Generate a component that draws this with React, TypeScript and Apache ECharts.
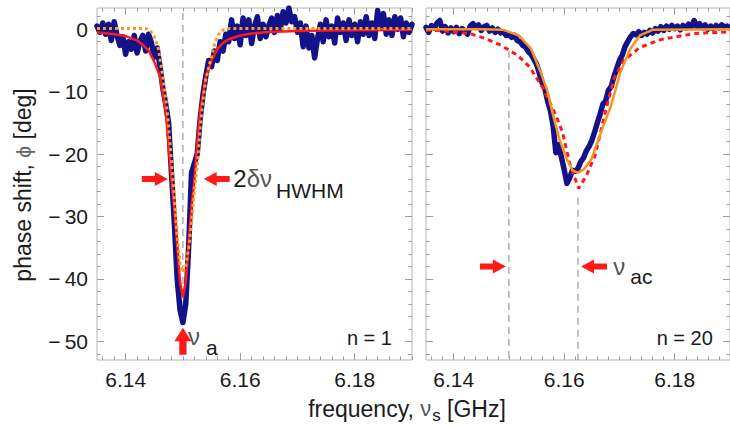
import { useEffect, useRef } from "react";
import * as echarts from "echarts";

const FONT = '"Liberation Sans", Arial, Helvetica, sans-serif';

// Recorded traces are sampled on a uniform frequency grid (GHz)
const FREQ_START = 6.135;
const FREQ_STEP = 0.0005;

// Measured phase shift (deg), single artificial atom, n = 1
const PHASE_N1 = [
  0.5, -0.5, 1.0, -0.8, 0.8, -1.8, 1.2, -1.0, -2.6, -1.2,
  -4.0, -2.0, -3.2, -1.0, -3.8, -2.0, -1.0, -3.5, -0.8, -2.2,
  -4.5, -3.0, -6.0, -9.5, -12.0, -15.0, -23.0, -31.0, -40.0, -45.0,
  -47.0, -44.0, -35.0, -23.0, -21.5, -20.0, -14.5, -10.5, -7.5, -5.0,
  -6.0, -3.5, -5.0, -2.0, -3.5, -0.8, -2.0, 1.5, -1.5, 0.5,
  -2.5, 1.8, -1.0, 1.5, -2.3, 0.5, 2.0, -1.5, 0.8, -1.2,
  0.6, 1.8, -0.5, 2.2, 0.0, 2.8, 1.0, 3.4, 1.2, 2.0,
  -0.5, 1.0, -2.8, 0.5, -3.0, -1.0, -4.6, -1.5, 0.8, -2.0,
  1.5, -1.2, 0.5, -2.2, 1.8, -0.5, 1.0, -1.8, 1.5, -1.0,
  0.8, -2.0, 1.2, -0.8, 2.0, -1.0, 1.0, -1.5, 3.0, 0.5,
  2.5, -0.8, 1.5, -1.0, 2.0, 0.0, 1.8, -1.2, 1.0, -0.5,
  0.8,
];

// Measured phase shift (deg), collective response, n = 20
const PHASE_N20 = [
  0.3, -0.5, 0.6, 0.2, 1.0, 1.4, -0.3, 0.4, -0.6, 0.2,
  -0.4, 0.3, -0.7, 0.1, -0.2, -0.8, 0.5, 0.9, 0.3, 0.7,
  -0.2, 0.4, 0.6, -0.3, 0.2, -0.5, 0.0, -0.6, -0.4, -1.0,
  -0.8, -1.3, -1.0, -1.8, -2.0, -2.6, -2.8, -3.6, -4.0, -4.8,
  -5.6, -7.0, -8.5, -9.5, -11.5, -13.0, -15.5, -19.8, -18.5, -20.5,
  -22.5, -24.7, -23.8, -22.6, -22.8, -22.3, -21.2, -20.6, -19.5, -18.8,
  -17.8, -16.5, -15.0, -13.6, -12.0, -11.5, -9.8, -9.2, -7.6, -6.3,
  -5.0, -4.2, -2.8, -2.0, -1.2, -0.7, -0.9, -0.4, -1.0, -0.5,
  -0.8, -0.2, -0.6, 0.1, -0.3, 0.4, -0.2, 0.5, 0.0, 0.6,
  0.1, 0.5, -0.1, 0.6, 0.2, 0.8, 0.3, 1.4, 0.4, 0.9,
  0.2, 0.7, 0.0, 0.5, 0.1, 0.6, 0.2, 0.7, 0.3, 0.5,
  0.2,
];

// Lorentzian fit, n = 1
const LORENTZ_N1_FREQ = [
  6.135, 6.138, 6.14, 6.142, 6.143, 6.144, 6.145, 6.146, 6.147, 6.1475,
  6.148, 6.1485, 6.149, 6.1495, 6.15, 6.1505, 6.151, 6.1515, 6.152, 6.1525,
  6.153, 6.154, 6.155, 6.156, 6.157, 6.158, 6.16, 6.162, 6.165, 6.17,
  6.175, 6.18, 6.19,
];
const LORENTZ_N1_PHASE = [
  -0.5, -0.8, -1.1, -1.8, -2.5, -3.4, -5.2, -7.6, -13.2, -18.5,
  -24.2, -28.5, -34.5, -40.5, -43.0, -40.5, -34.5, -28.5, -24.2, -18.5,
  -13.2, -7.6, -5.0, -3.2, -2.2, -1.6, -1.0, -0.7, -0.45, -0.3,
  -0.2, -0.15, -0.1,
];

// Gaussian fit, n = 1
const GAUSS_N1_FREQ = [
  6.135, 6.14, 6.1435, 6.1443, 6.145, 6.1457, 6.1465, 6.1472, 6.148, 6.1485,
  6.149, 6.1495, 6.15, 6.1505, 6.151, 6.1515, 6.152, 6.1526, 6.153, 6.1535,
  6.154, 6.1547, 6.1556, 6.1562, 6.1568, 6.158, 6.165, 6.19,
];
const GAUSS_N1_PHASE = [
  0.1, 0.1, 0.1, -0.2, -1.2, -3.0, -7.7, -12.5, -21.0, -27.0,
  -33.0, -37.5, -39.0, -38.0, -35.0, -31.0, -26.0, -21.0, -16.0, -11.5,
  -8.0, -5.4, -2.1, -0.9, -0.2, 0.1, 0.1, 0.1,
];

// Gaussian fit, n = 20
const GAUSS_N20_FREQ = [
  6.135, 6.145, 6.149, 6.1518, 6.154, 6.1557, 6.157, 6.158, 6.1591, 6.1604,
  6.1615, 6.1625, 6.1635, 6.165, 6.1667, 6.1685, 6.1702, 6.172, 6.1737, 6.176,
  6.19,
];
const GAUSS_N20_PHASE = [
  0.0, 0.0, -0.1, -1.0, -3.1, -6.8, -10.0, -13.8, -17.5, -20.7,
  -22.6, -23.0, -22.5, -20.7, -16.4, -12.2, -6.8, -3.1, -1.0, -0.1,
  0.0,
];

// Lorentzian fit, n = 20
const LORENTZ_N20_FREQ = [
  6.135, 6.1371, 6.1429, 6.1458, 6.1486, 6.1516, 6.1538, 6.1562, 6.1585, 6.1597,
  6.161, 6.1626, 6.164, 6.1656, 6.1673, 6.169, 6.1708, 6.1737, 6.1777, 6.1835,
  6.19,
];
const LORENTZ_N20_PHASE = [
  -0.15, -0.2, -0.7, -1.5, -2.6, -4.2, -6.1, -9.5, -13.8, -16.5,
  -21.5, -25.5, -23.5, -20.2, -13.8, -7.9, -5.0, -2.9, -1.6, -0.7,
  -0.4,
];

const X_TICK_LABELS = [6.14, 6.16, 6.18];
const Y_TICK_LABELS = [-50, -40, -30, -20, -10, 0];

// Resonance frequencies marked in the panels (GHz)
const NU_A = 6.15;
const NU_AC = 6.1625;

const X_MIN = 6.135;
const X_MAX = 6.19;
const Y_MIN = -53;
const Y_MAX = 3.4;

const X_MINOR = Array.from({ length: 28 }, (_, k) => Number((6.136 + 0.002 * k).toFixed(3)));
const Y_MINOR = Array.from({ length: 28 }, (_, k) => -52 + 2 * k);

const BLUE = "#12128a";
const RED = "#ff1a1a";
const ORANGE = "#ff9a1e";
const FRAME = "#b4b4b4";
const TICK = "#9c9c9c";
const INK = "#1a1a1a";
const GREEK = "#555555";

const pairs = (xs: number[], ys: number[]) => ys.map((y, i) => [xs[i], y]);
const sampled = (ys: number[]) => ys.map((y, i) => [FREQ_START + FREQ_STEP * i, y]);

const tick = (values: number[], length: number) => ({
  show: true,
  inside: true,
  length,
  customValues: values,
  lineStyle: { color: TICK, width: 1 },
});

const xLabel = {
  show: true,
  customValues: X_TICK_LABELS,
  formatter: (v: number) => v.toFixed(2),
  color: INK,
  fontSize: 21,
  fontFamily: FONT,
  margin: 9,
};

const yLabel = {
  show: true,
  customValues: Y_TICK_LABELS,
  formatter: (v: number) => (v === 0 ? "0" : "\u2212\u2009" + Math.abs(v)),
  color: INK,
  fontSize: 21,
  fontFamily: FONT,
  margin: 9,
};

function frameXAxes(gridIndex: number) {
  const base = {
    type: "value",
    gridIndex,
    min: X_MIN,
    max: X_MAX,
    axisLine: { show: false, onZero: false },
    splitLine: { show: false },
  };
  return [
    { ...base, position: "bottom", axisTick: tick(X_TICK_LABELS, 7), axisLabel: xLabel },
    { ...base, position: "bottom", axisTick: tick(X_MINOR, 3.5), axisLabel: { show: false } },
    { ...base, position: "top", axisTick: tick(X_TICK_LABELS, 7), axisLabel: { show: false } },
    { ...base, position: "top", axisTick: tick(X_MINOR, 3.5), axisLabel: { show: false } },
  ];
}

function frameYAxes(gridIndex: number, labelled: boolean) {
  const base = {
    type: "value",
    gridIndex,
    min: Y_MIN,
    max: Y_MAX,
    axisLine: { show: false, onZero: false },
    splitLine: { show: false },
  };
  return [
    { ...base, position: "left", axisTick: tick(Y_TICK_LABELS, 7), axisLabel: labelled ? yLabel : { show: false } },
    { ...base, position: "left", axisTick: tick(Y_MINOR, 3.5), axisLabel: { show: false } },
    { ...base, position: "right", axisTick: tick(Y_TICK_LABELS, 7), axisLabel: { show: false } },
    { ...base, position: "right", axisTick: tick(Y_MINOR, 3.5), axisLabel: { show: false } },
  ];
}

const ARROW = "path://M0,4L13,4L13,0L26,7L13,14L13,10L0,10Z";

// Rich styles for annotation texts: main glyphs and lowered subscripts
const richMain = { fontFamily: FONT, verticalAlign: "top", lineHeight: 28 };
const annotationRich = (subPad: number, subGap: number) => ({
  k: { ...richMain, fontSize: 24, fill: INK },
  g: { ...richMain, fontSize: 24, fill: GREEK },
  s: { fontFamily: FONT, fontSize: 21, fill: INK, verticalAlign: "top", lineHeight: 22, padding: [subPad, 0, 0, subGap] },
});

// Annotation texts anchored in data space: [panel, freq, phase, text, subscript drop, subscript gap]
const ANNOTATIONS: [number, number, number, string, number, number][] = [
  [0, 6.1588, -24.2, "{k|2}{g|\u03b4\u03bd}{s|HWHM}", 14, 4],
  [0, 6.1509, -49.5, "{g|\u03bd}{s|a}", 13, 6],
  [1, 6.1689, -38.3, "{g|\u03bd}{s|ac}", 12, 5],
];
const PANEL_TAGS: [number, number, number, string][] = [
  [0, 6.1865, -49.4, "n = 1"],
  [1, 6.1869, -49.5, "n = 20"],
];

function lineSeries(name: string, data: number[][], panel: number, style: any, z: number) {
  return {
    name,
    type: "line",
    xAxisIndex: panel * 4,
    yAxisIndex: panel * 4,
    data,
    showSymbol: false,
    symbol: "none",
    silent: true,
    z,
    lineStyle: style,
  };
}

function arrowSeries(panel: number, data: any[]) {
  return {
    type: "scatter",
    xAxisIndex: panel * 4,
    yAxisIndex: panel * 4,
    silent: true,
    z: 6,
    symbol: ARROW,
    symbolSize: [26, 14],
    itemStyle: { color: RED, opacity: 1 },
    data,
  };
}

export default function App() {
  const ref = useRef<HTMLDivElement>(null);

  useEffect(() => {
    if (!ref.current) return;
    const chart = echarts.init(ref.current, undefined, { renderer: "svg" });

    const grid = {
      show: true,
      borderColor: FRAME,
      borderWidth: 1,
      backgroundColor: "transparent",
      top: 8,
      height: 352,
      width: 315,
    };

    chart.setOption({
      animation: false,
      grid: [
        { ...grid, left: 97 },
        { ...grid, left: 426 },
      ],
      xAxis: [...frameXAxes(0), ...frameXAxes(1)],
      yAxis: [...frameYAxes(0, true), ...frameYAxes(1, false)],
      series: [
        // n = 1 panel
        lineSeries("nu_a", [[NU_A, 2.6], [NU_A, -47]], 0, { color: "#9a9a9a", width: 1.2, type: [7, 5] }, 1),
        lineSeries("data n=1", sampled(PHASE_N1), 0, { color: BLUE, width: 5.5, join: "round", cap: "round" }, 2),
        lineSeries("lorentz n=1", pairs(LORENTZ_N1_FREQ, LORENTZ_N1_PHASE), 0, { color: RED, width: 2.5 }, 3),
        lineSeries("gauss n=1", pairs(GAUSS_N1_FREQ, GAUSS_N1_PHASE), 0, { color: ORANGE, width: 3, type: [3, 3] }, 4),
        arrowSeries(0, [
          { value: [6.1451, -24] },
          { value: [6.1559, -24], symbolRotate: 180 },
          { value: [NU_A, -50], symbolRotate: 90, symbolSize: [27, 17] },
        ]),

        // n = 20 panel
        lineSeries("nu_a n=20", [[NU_A, -3.5], [NU_A, Y_MIN]], 1, { color: "#9a9a9a", width: 1.2, type: [7, 5] }, 1),
        lineSeries("nu_ac", [[NU_AC, -27], [NU_AC, Y_MIN]], 1, { color: "#9a9a9a", width: 1.2, type: [7, 5] }, 1),
        lineSeries("data n=20", sampled(PHASE_N20), 1, { color: BLUE, width: 5.5, join: "round", cap: "round" }, 2),
        lineSeries("lorentz n=20", pairs(LORENTZ_N20_FREQ, LORENTZ_N20_PHASE), 1, { color: RED, width: 3, type: [5, 4] }, 3),
        lineSeries("gauss n=20", pairs(GAUSS_N20_FREQ, GAUSS_N20_PHASE), 1, { color: "#f7931e", width: 2.5 }, 4),
        arrowSeries(1, [
          { value: [6.1471, -38] },
          { value: [6.1654, -38], symbolRotate: 180 },
        ]),
      ],
    });

    const toPx = (panel: number, f: number, v: number) =>
      chart.convertToPixel({ gridIndex: panel }, [f, v]) as number[];

    const annotationTexts = ANNOTATIONS.map(([panel, f, v, text, drop, gap]) => {
      const [x, y] = toPx(panel, f, v);
      return {
        type: "text",
        x,
        y,
        z: 10,
        silent: true,
        style: { text, align: "left", verticalAlign: "middle", rich: annotationRich(drop, gap) },
      };
    });

    const tagTexts = PANEL_TAGS.map(([panel, f, v, text]) => {
      const [x, y] = toPx(panel, f, v);
      return {
        type: "text",
        x,
        y,
        z: 10,
        silent: true,
        style: { text, align: "right", verticalAlign: "middle", fontFamily: FONT, fontSize: 20, fill: INK },
      };
    });

    chart.setOption({
      graphic: [
        {
          type: "text",
          x: 23,
          y: 185,
          rotation: Math.PI / 2,
          style: {
            text: "{t|phase shift, }{g|\u03d5}{t| [deg]}",
            align: "center",
            verticalAlign: "middle",
            rich: {
              t: { fontSize: 23, fontFamily: FONT, fill: INK },
              g: { fontSize: 21, fontFamily: FONT, fill: "#666" },
            },
          },
        },
        {
          type: "text",
          x: 407,
          y: 410,
          style: {
            text: "{t|frequency, }{g|\u03bd}{s|s}{t| [GHz]}",
            align: "center",
            verticalAlign: "middle",
            rich: {
              t: { fontSize: 23, fontFamily: FONT, fill: INK, verticalAlign: "top", lineHeight: 26 },
              g: { fontSize: 22, fontFamily: FONT, fill: GREEK, verticalAlign: "top", lineHeight: 26 },
              s: { fontSize: 17, fontFamily: FONT, fill: INK, verticalAlign: "top", lineHeight: 18, padding: [10, 0, 0, 1] },
            },
          },
        },
        ...annotationTexts,
        ...tagTexts,
      ],
    });

    return () => chart.dispose();
  }, []);

  return (
    <div
      ref={ref}
      style={{ position: "fixed", left: 0, top: 0, width: 730, height: 426, background: "#fff" }}
    />
  );
}
